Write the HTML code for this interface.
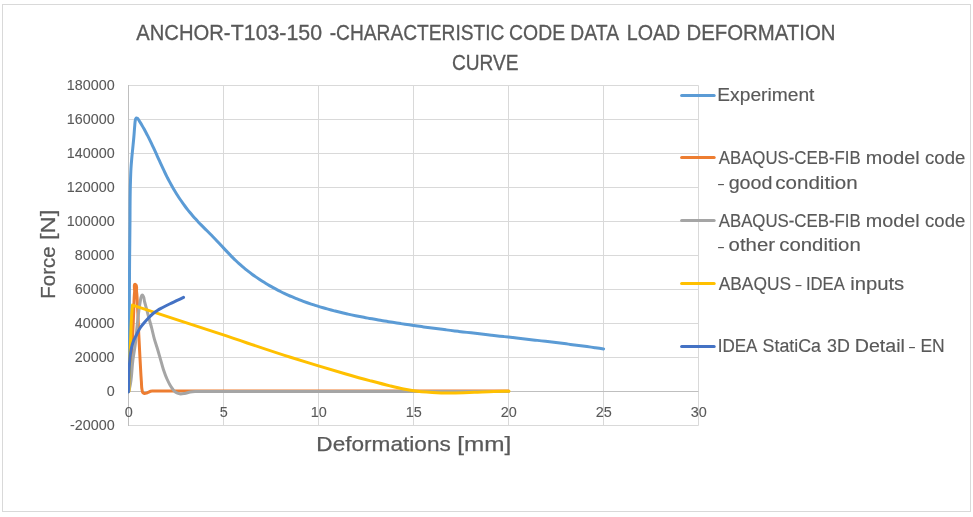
<!DOCTYPE html><html lang="en"><head><meta charset="utf-8"><title>ANCHOR-T103-150 load deformation curve</title><style>
html,body{margin:0;padding:0;background:#fff;}body{width:973px;height:517px;overflow:hidden;}
svg{display:block;will-change:transform;font-family:"Liberation Sans",sans-serif;}text{fill:#595959;}
</style></head><body>
<svg width="973" height="517" viewBox="0 0 973 517">
<rect x="0" y="0" width="973" height="517" fill="#fff"/>
<rect x="2.5" y="4.5" width="968" height="507" fill="#fff" stroke="#D9D9D9" stroke-width="1"/>
<g stroke="#D9D9D9" stroke-width="1" fill="none"><line x1="128.5" y1="85.5" x2="698.5" y2="85.5"/><line x1="128.5" y1="119.5" x2="698.5" y2="119.5"/><line x1="128.5" y1="153.5" x2="698.5" y2="153.5"/><line x1="128.5" y1="187.5" x2="698.5" y2="187.5"/><line x1="128.5" y1="221.5" x2="698.5" y2="221.5"/><line x1="128.5" y1="255.5" x2="698.5" y2="255.5"/><line x1="128.5" y1="289.5" x2="698.5" y2="289.5"/><line x1="128.5" y1="323.5" x2="698.5" y2="323.5"/><line x1="128.5" y1="357.5" x2="698.5" y2="357.5"/><line x1="128.5" y1="425.5" x2="698.5" y2="425.5"/><line x1="128.5" y1="85.5" x2="128.5" y2="425.5"/><line x1="223.5" y1="85.5" x2="223.5" y2="425.5"/><line x1="318.5" y1="85.5" x2="318.5" y2="425.5"/><line x1="413.5" y1="85.5" x2="413.5" y2="425.5"/><line x1="508.5" y1="85.5" x2="508.5" y2="425.5"/><line x1="603.5" y1="85.5" x2="603.5" y2="425.5"/><line x1="698.5" y1="85.5" x2="698.5" y2="425.5"/></g>
<line x1="128.5" y1="391.5" x2="698.5" y2="391.5" stroke="#BFBFBF" stroke-width="1"/>
<line x1="128.5" y1="85.0" x2="128.5" y2="426.0" stroke="#BFBFBF" stroke-width="1"/>
<text x="136.31" y="40.10" font-size="21.40" text-anchor="start" textLength="94.3" lengthAdjust="spacingAndGlyphs" stroke="#595959" stroke-width="0.30">ANCHOR-</text><text x="230.77" y="40.10" font-size="21.40" text-anchor="start" textLength="91.3" lengthAdjust="spacingAndGlyphs" stroke="#595959" stroke-width="0.30">T103-150</text><text x="329.70" y="40.10" font-size="21.40" text-anchor="start" textLength="174.7" lengthAdjust="spacingAndGlyphs" stroke="#595959" stroke-width="0.30">-CHARACTERISTIC</text><text x="509.07" y="40.10" font-size="21.40" text-anchor="start" textLength="56.0" lengthAdjust="spacingAndGlyphs" stroke="#595959" stroke-width="0.30">CODE</text><text x="570.36" y="40.10" font-size="21.40" text-anchor="start" textLength="48.7" lengthAdjust="spacingAndGlyphs" stroke="#595959" stroke-width="0.30">DATA</text><text x="626.74" y="40.10" font-size="21.40" text-anchor="start" textLength="53.6" lengthAdjust="spacingAndGlyphs" stroke="#595959" stroke-width="0.30">LOAD</text><text x="686.48" y="40.10" font-size="21.40" text-anchor="start" textLength="149.1" lengthAdjust="spacingAndGlyphs" stroke="#595959" stroke-width="0.30">DEFORMATION</text>
<text x="451.98" y="70.40" font-size="21.40" text-anchor="start" textLength="66.6" lengthAdjust="spacingAndGlyphs" stroke="#595959" stroke-width="0.30">CURVE</text>
<g transform="translate(114.6,90.00) scale(1.03,1)"><text x="0.00" y="0.00" font-size="13.90" text-anchor="end" stroke="#595959" stroke-width="0.08">180000</text></g>
<g transform="translate(114.6,124.00) scale(1.03,1)"><text x="0.00" y="0.00" font-size="13.90" text-anchor="end" stroke="#595959" stroke-width="0.08">160000</text></g>
<g transform="translate(114.6,158.00) scale(1.03,1)"><text x="0.00" y="0.00" font-size="13.90" text-anchor="end" stroke="#595959" stroke-width="0.08">140000</text></g>
<g transform="translate(114.6,192.00) scale(1.03,1)"><text x="0.00" y="0.00" font-size="13.90" text-anchor="end" stroke="#595959" stroke-width="0.08">120000</text></g>
<g transform="translate(114.6,226.00) scale(1.03,1)"><text x="0.00" y="0.00" font-size="13.90" text-anchor="end" stroke="#595959" stroke-width="0.08">100000</text></g>
<g transform="translate(114.6,260.00) scale(1.03,1)"><text x="0.00" y="0.00" font-size="13.90" text-anchor="end" stroke="#595959" stroke-width="0.08">80000</text></g>
<g transform="translate(114.6,294.00) scale(1.03,1)"><text x="0.00" y="0.00" font-size="13.90" text-anchor="end" stroke="#595959" stroke-width="0.08">60000</text></g>
<g transform="translate(114.6,328.00) scale(1.03,1)"><text x="0.00" y="0.00" font-size="13.90" text-anchor="end" stroke="#595959" stroke-width="0.08">40000</text></g>
<g transform="translate(114.6,362.00) scale(1.03,1)"><text x="0.00" y="0.00" font-size="13.90" text-anchor="end" stroke="#595959" stroke-width="0.08">20000</text></g>
<g transform="translate(114.6,396.00) scale(1.03,1)"><text x="0.00" y="0.00" font-size="13.90" text-anchor="end" stroke="#595959" stroke-width="0.08">0</text></g>
<g transform="translate(114.6,430.00) scale(1.03,1)"><text x="0.00" y="0.00" font-size="13.90" text-anchor="end" stroke="#595959" stroke-width="0.08">-20000</text></g>
<g transform="translate(128.70,417.0) scale(1.04,1)"><text x="0.00" y="0.00" font-size="13.90" text-anchor="middle" stroke="#595959" stroke-width="0.08">0</text></g>
<g transform="translate(223.70,417.0) scale(1.04,1)"><text x="0.00" y="0.00" font-size="13.90" text-anchor="middle" stroke="#595959" stroke-width="0.08">5</text></g>
<g transform="translate(318.70,417.0) scale(1.04,1)"><text x="0.00" y="0.00" font-size="13.90" text-anchor="middle" stroke="#595959" stroke-width="0.08">10</text></g>
<g transform="translate(413.70,417.0) scale(1.04,1)"><text x="0.00" y="0.00" font-size="13.90" text-anchor="middle" stroke="#595959" stroke-width="0.08">15</text></g>
<g transform="translate(508.70,417.0) scale(1.04,1)"><text x="0.00" y="0.00" font-size="13.90" text-anchor="middle" stroke="#595959" stroke-width="0.08">20</text></g>
<g transform="translate(603.70,417.0) scale(1.04,1)"><text x="0.00" y="0.00" font-size="13.90" text-anchor="middle" stroke="#595959" stroke-width="0.08">25</text></g>
<g transform="translate(698.70,417.0) scale(1.04,1)"><text x="0.00" y="0.00" font-size="13.90" text-anchor="middle" stroke="#595959" stroke-width="0.08">30</text></g>
<text x="316.37" y="450.50" font-size="21.00" text-anchor="start" textLength="134.4" lengthAdjust="spacingAndGlyphs" stroke="#595959" stroke-width="0.25">Deformations</text><text x="457.29" y="450.50" font-size="21.00" text-anchor="start" textLength="54.0" lengthAdjust="spacingAndGlyphs" stroke="#595959" stroke-width="0.25">[mm]</text>
<g transform="translate(55.2,0) rotate(-90)"><text x="-298.65" y="0.00" font-size="21.00" text-anchor="start" textLength="52.2" lengthAdjust="spacingAndGlyphs" stroke="#595959" stroke-width="0.25">Force</text><text x="-239.97" y="0.00" font-size="21.00" text-anchor="start" textLength="30.3" lengthAdjust="spacingAndGlyphs" stroke="#595959" stroke-width="0.25">[N]</text></g>
<clipPath id="pc"><rect x="128" y="60" width="600" height="380"/></clipPath>
<g fill="none" stroke-width="3" stroke-linecap="round" stroke-linejoin="round" clip-path="url(#pc)">
<path stroke="#5B9BD5" d="M128.70 391.50 C128.87 371.00 129.06 350.50 129.20 330.00 C129.36 306.67 129.40 283.33 129.60 260.00 C129.71 246.67 129.91 233.33 130.00 220.00 C130.04 213.33 130.02 206.67 130.10 200.00 C130.18 194.00 130.27 188.00 130.45 182.00 C130.58 177.67 130.69 173.33 130.95 169.00 C131.15 165.66 131.41 162.33 131.70 159.00 C132.01 155.43 132.40 151.87 132.75 148.30 C133.12 144.53 133.52 140.77 133.85 137.00 C134.20 133.04 134.41 129.06 134.80 125.10 C134.95 123.53 134.97 121.94 135.30 120.40 C135.41 119.86 135.42 119.27 135.70 118.80 C135.88 118.50 136.06 118.10 136.40 118.00 C136.73 117.91 137.10 118.13 137.40 118.30 C137.90 118.58 138.16 119.14 138.50 119.60 C138.98 120.25 139.34 120.97 139.76 121.66 C140.49 122.84 141.22 124.01 141.92 125.20 C142.62 126.40 143.31 127.60 143.99 128.81 C144.66 130.02 145.32 131.23 145.97 132.46 C146.62 133.68 147.26 134.92 147.89 136.15 C148.52 137.39 149.13 138.63 149.75 139.88 C150.36 141.13 150.96 142.38 151.56 143.64 C152.15 144.90 152.74 146.16 153.33 147.42 C153.92 148.68 154.50 149.95 155.07 151.22 C155.65 152.48 156.23 153.75 156.81 155.02 C157.38 156.29 157.95 157.56 158.53 158.83 C159.11 160.10 159.68 161.37 160.26 162.64 C160.84 163.91 161.42 165.18 162.01 166.44 C162.59 167.70 163.18 168.97 163.78 170.22 C164.38 171.48 164.98 172.74 165.59 173.99 C166.20 175.23 166.82 176.48 167.45 177.72 C168.08 178.96 168.72 180.19 169.37 181.42 C170.02 182.64 170.68 183.86 171.35 185.08 C172.03 186.29 172.71 187.49 173.41 188.69 C174.11 189.89 174.83 191.08 175.55 192.26 C176.28 193.44 177.01 194.61 177.76 195.77 C178.51 196.94 179.28 198.09 180.05 199.24 C180.83 200.39 181.62 201.52 182.42 202.65 C183.22 203.78 184.03 204.90 184.86 206.01 C185.69 207.12 186.53 208.22 187.38 209.31 C188.23 210.40 189.10 211.48 189.97 212.55 C190.85 213.63 191.74 214.69 192.64 215.74 C193.55 216.79 194.46 217.83 195.39 218.86 C196.32 219.89 197.26 220.91 198.22 221.92 C199.17 222.93 200.14 223.92 201.11 224.91 C202.09 225.90 203.07 226.88 204.06 227.87 C205.05 228.85 206.04 229.82 207.03 230.80 C208.02 231.78 209.01 232.75 210.00 233.74 C210.98 234.72 211.96 235.71 212.93 236.71 C213.90 237.70 214.86 238.71 215.82 239.72 C216.78 240.72 217.73 241.74 218.68 242.75 C219.62 243.77 220.57 244.79 221.52 245.81 C222.46 246.82 223.40 247.84 224.35 248.86 C225.30 249.87 226.25 250.89 227.20 251.90 C228.16 252.90 229.12 253.91 230.08 254.90 C231.05 255.90 232.02 256.89 233.01 257.87 C233.99 258.85 234.99 259.82 235.99 260.77 C237.00 261.73 238.02 262.68 239.05 263.61 C240.08 264.54 241.13 265.46 242.19 266.37 C243.24 267.27 244.31 268.16 245.39 269.04 C246.47 269.93 247.57 270.79 248.67 271.65 C249.77 272.50 250.88 273.34 252.01 274.17 C253.13 275.00 254.26 275.81 255.41 276.61 C256.55 277.42 257.70 278.20 258.86 278.98 C260.02 279.75 261.19 280.52 262.37 281.26 C263.54 282.01 264.73 282.75 265.92 283.47 C267.11 284.19 268.31 284.90 269.51 285.60 C270.72 286.29 271.93 286.97 273.15 287.64 C274.36 288.31 275.59 288.96 276.82 289.61 C278.04 290.25 279.28 290.88 280.52 291.49 C281.76 292.11 283.00 292.71 284.25 293.30 C285.50 293.90 286.76 294.47 288.02 295.04 C289.28 295.61 290.55 296.17 291.82 296.71 C293.09 297.25 294.36 297.79 295.64 298.31 C296.92 298.83 298.20 299.34 299.49 299.84 C300.78 300.34 302.07 300.83 303.37 301.31 C304.67 301.79 305.97 302.26 307.27 302.72 C308.58 303.18 309.89 303.63 311.20 304.07 C312.51 304.51 313.83 304.94 315.15 305.36 C316.47 305.79 317.79 306.20 319.12 306.60 C320.44 307.01 321.77 307.40 323.10 307.79 C324.44 308.18 325.77 308.56 327.11 308.93 C328.45 309.30 329.79 309.66 331.14 310.02 C332.48 310.37 333.83 310.72 335.18 311.06 C336.53 311.40 337.88 311.74 339.23 312.07 C340.58 312.39 341.94 312.71 343.30 313.03 C344.66 313.34 346.02 313.65 347.38 313.96 C348.74 314.26 350.10 314.55 351.47 314.85 C352.83 315.14 354.20 315.42 355.57 315.70 C356.94 315.98 358.31 316.26 359.68 316.53 C361.05 316.80 362.42 317.07 363.79 317.33 C365.16 317.59 366.54 317.85 367.91 318.10 C369.28 318.36 370.66 318.61 372.03 318.85 C373.41 319.10 374.79 319.34 376.16 319.58 C377.54 319.82 378.91 320.06 380.29 320.29 C381.67 320.53 383.04 320.76 384.42 320.98 C385.80 321.21 387.17 321.44 388.55 321.66 C389.93 321.89 391.30 322.11 392.68 322.33 C394.05 322.55 395.43 322.76 396.81 322.98 C398.18 323.19 399.56 323.40 400.94 323.61 C402.31 323.82 403.69 324.03 405.07 324.24 C406.44 324.44 407.82 324.65 409.19 324.85 C410.57 325.05 411.95 325.25 413.32 325.45 C414.70 325.64 416.08 325.84 417.45 326.03 C418.83 326.23 420.20 326.42 421.58 326.61 C422.96 326.80 424.33 326.99 425.71 327.18 C427.09 327.36 428.46 327.55 429.84 327.73 C431.21 327.92 432.59 328.10 433.97 328.28 C435.34 328.46 436.72 328.64 438.10 328.82 C439.47 329.00 440.85 329.17 442.23 329.35 C443.60 329.52 444.98 329.70 446.36 329.87 C447.73 330.04 449.11 330.21 450.49 330.38 C451.86 330.55 453.24 330.72 454.62 330.89 C455.99 331.06 457.37 331.23 458.75 331.39 C460.12 331.56 461.50 331.72 462.88 331.89 C464.25 332.05 465.63 332.21 467.01 332.38 C468.38 332.54 469.76 332.70 471.14 332.86 C472.52 333.02 473.89 333.18 475.27 333.34 C476.65 333.50 478.02 333.66 479.40 333.82 C480.78 333.98 482.16 334.14 483.53 334.29 C484.91 334.45 486.29 334.61 487.67 334.76 C489.04 334.92 490.42 335.08 491.80 335.23 C493.18 335.39 494.55 335.54 495.93 335.70 C497.31 335.85 498.69 336.01 500.07 336.17 C501.44 336.32 502.82 336.48 504.20 336.63 C505.58 336.79 506.96 336.94 508.33 337.09 C509.71 337.25 511.09 337.40 512.47 337.56 C513.85 337.71 515.23 337.87 516.60 338.03 C517.98 338.18 519.36 338.34 520.74 338.49 C522.12 338.65 523.50 338.80 524.88 338.96 C526.26 339.12 527.64 339.28 529.02 339.43 C530.39 339.59 531.77 339.75 533.15 339.91 C534.53 340.07 535.91 340.22 537.29 340.38 C538.67 340.54 540.05 340.70 541.43 340.87 C542.81 341.03 544.19 341.19 545.57 341.35 C546.95 341.51 548.33 341.68 549.71 341.84 C551.09 342.01 552.47 342.17 553.85 342.34 C555.23 342.50 556.61 342.67 558.00 342.84 C559.38 343.01 560.76 343.18 562.14 343.35 C563.52 343.52 564.90 343.69 566.28 343.86 C567.66 344.04 569.05 344.21 570.43 344.39 C571.81 344.56 573.19 344.74 574.57 344.92 C575.95 345.10 577.34 345.28 578.72 345.46 C580.10 345.64 581.48 345.82 582.87 346.01 C584.25 346.19 585.63 346.38 587.01 346.56 C588.40 346.75 589.78 346.94 591.16 347.13 C592.55 347.32 593.93 347.51 595.31 347.71 C596.70 347.90 598.08 348.10 599.46 348.30 C600.85 348.50 602.23 348.70 603.61 348.90"/>
<path stroke="#ED7D31" d="M128.60 391.50 C129.17 384.33 129.76 377.17 130.30 370.00 C131.05 360.00 131.82 350.01 132.40 340.00 C132.94 330.67 133.27 321.33 133.70 312.00 C134.00 305.33 133.88 298.63 134.60 292.00 C134.87 289.49 133.36 283.34 135.60 284.50 C137.54 285.51 136.24 288.83 136.50 291.00 C137.34 297.96 137.43 305.00 137.80 312.00 C138.21 319.66 138.44 327.33 138.80 335.00 C139.20 343.34 139.64 351.67 140.10 360.00 C140.51 367.33 140.85 374.67 141.40 382.00 C141.59 384.50 141.45 387.05 142.00 389.50 C142.24 390.55 142.15 391.83 142.90 392.60 C143.31 393.02 143.83 393.37 144.40 393.50 C145.13 393.67 145.89 393.34 146.60 393.10 C147.31 392.86 147.92 392.41 148.60 392.10 C149.26 391.80 149.90 391.42 150.60 391.25 C151.38 391.06 152.20 391.15 153.00 391.10 L508.50 391.10"/>
<path stroke="#A5A5A5" d="M128.60 391.50 C128.93 390.33 129.29 389.17 129.60 388.00 C132.02 378.92 131.63 369.31 132.90 360.00 C133.70 354.16 134.80 348.36 135.50 342.50 C136.08 337.61 136.38 332.70 136.90 327.80 C137.24 324.53 137.62 321.27 138.00 318.00 C138.39 314.67 138.71 311.32 139.20 308.00 C139.53 305.76 139.89 303.53 140.30 301.30 C140.58 299.80 140.52 298.17 141.20 296.80 C141.50 296.20 141.63 295.08 142.30 295.10 C142.92 295.12 143.09 296.06 143.40 296.60 C144.20 297.99 144.11 299.74 144.50 301.30 C145.06 303.54 145.70 305.77 146.30 308.00 C147.28 311.66 148.21 315.34 149.20 319.00 C150.05 322.17 150.98 325.32 151.80 328.50 C152.72 332.05 153.42 335.66 154.40 339.20 C155.41 342.84 156.72 346.38 157.80 350.00 C158.56 352.53 159.27 355.07 160.00 357.60 C161.14 361.53 162.10 365.52 163.40 369.40 C164.49 372.64 165.60 375.88 167.00 379.00 C167.92 381.04 168.87 383.07 170.00 385.00 C170.80 386.37 171.63 387.74 172.60 389.00 C173.51 390.17 174.37 391.47 175.60 392.30 C176.78 393.09 178.20 393.57 179.60 393.80 C181.21 394.07 182.88 393.74 184.50 393.50 C186.44 393.21 188.26 392.34 190.20 392.00 C191.78 391.72 193.39 391.60 195.00 391.50 C196.66 391.40 198.33 391.43 200.00 391.40 L508.50 391.40"/>
<path stroke="#FFC000" d="M128.90 391.50 C129.20 381.00 129.43 370.50 129.80 360.00 C130.04 353.33 130.32 346.67 130.60 340.00 C131.00 330.67 131.17 321.31 131.90 312.00 C132.08 309.70 132.30 307.40 132.50 305.10 L132.50 305.10 C162.53 314.97 192.59 324.77 222.60 334.70 C245.25 342.20 267.75 350.14 290.50 357.30 C299.81 360.23 309.15 363.09 318.50 365.90 C327.32 368.55 336.15 371.16 345.00 373.70 C353.22 376.05 361.45 378.38 369.70 380.60 C376.45 382.42 383.20 384.26 390.00 385.90 C394.52 386.99 399.04 388.09 403.60 389.00 C406.92 389.66 410.25 390.30 413.60 390.80 C419.76 391.71 425.99 392.13 432.20 392.50 C438.79 392.89 445.40 393.01 452.00 393.00 C459.44 392.99 466.87 392.59 474.30 392.30 C480.87 392.04 487.43 391.55 494.00 391.40 C499.00 391.28 504.00 391.33 509.00 391.30"/>
<path stroke="#4472C4" d="M128.40 392.00 C128.53 388.00 128.65 384.00 128.80 380.00 C129.00 374.67 129.11 369.32 129.50 364.00 C129.72 361.00 129.90 357.99 130.30 355.00 C130.52 353.33 130.79 351.66 131.10 350.00 C131.42 348.32 131.74 346.64 132.20 345.00 C132.67 343.30 133.22 341.62 133.90 340.00 C134.59 338.35 135.49 336.79 136.30 335.20 C137.53 332.78 138.61 330.27 140.10 328.00 C141.38 326.06 142.90 324.28 144.40 322.50 C145.78 320.85 147.20 319.24 148.70 317.70 C150.11 316.25 151.53 314.79 153.10 313.50 C154.46 312.38 155.91 311.35 157.40 310.40 C159.10 309.32 160.92 308.44 162.70 307.50 C164.98 306.29 167.28 305.13 169.60 304.00 C171.92 302.87 174.27 301.80 176.60 300.70 C178.92 299.60 181.23 298.50 183.55 297.40"/>
</g>
<line x1="681.6" y1="95.45" x2="714.2" y2="95.45" stroke="#5B9BD5" stroke-width="3" stroke-linecap="round"/>
<text x="717.30" y="101.20" font-size="18.00" text-anchor="start" textLength="97.1" lengthAdjust="spacingAndGlyphs" stroke="#595959" stroke-width="0.15">Experiment</text>
<line x1="681.6" y1="157.50" x2="714.2" y2="157.50" stroke="#ED7D31" stroke-width="3" stroke-linecap="round"/>
<text x="718.74" y="164.20" font-size="18.00" text-anchor="start" textLength="141.9" lengthAdjust="spacingAndGlyphs" stroke="#595959" stroke-width="0.15">ABAQUS-CEB-FIB</text><text x="865.76" y="164.20" font-size="18.00" text-anchor="start" textLength="53.8" lengthAdjust="spacingAndGlyphs" stroke="#595959" stroke-width="0.15">model</text><text x="925.09" y="164.20" font-size="18.00" text-anchor="start" textLength="40.2" lengthAdjust="spacingAndGlyphs" stroke="#595959" stroke-width="0.15">code</text>
<text x="717.03" y="189.15" font-size="14.40" text-anchor="start" textLength="8.0" lengthAdjust="spacingAndGlyphs">-</text><text x="728.65" y="188.60" font-size="18.00" text-anchor="start" textLength="43.8" lengthAdjust="spacingAndGlyphs" stroke="#595959" stroke-width="0.15">good</text><text x="775.30" y="188.60" font-size="18.00" text-anchor="start" textLength="82.3" lengthAdjust="spacingAndGlyphs" stroke="#595959" stroke-width="0.15">condition</text>
<line x1="681.6" y1="220.50" x2="714.2" y2="220.50" stroke="#A5A5A5" stroke-width="3" stroke-linecap="round"/>
<text x="718.74" y="226.90" font-size="18.00" text-anchor="start" textLength="141.9" lengthAdjust="spacingAndGlyphs" stroke="#595959" stroke-width="0.15">ABAQUS-CEB-FIB</text><text x="865.76" y="226.90" font-size="18.00" text-anchor="start" textLength="53.8" lengthAdjust="spacingAndGlyphs" stroke="#595959" stroke-width="0.15">model</text><text x="925.09" y="226.90" font-size="18.00" text-anchor="start" textLength="40.2" lengthAdjust="spacingAndGlyphs" stroke="#595959" stroke-width="0.15">code</text>
<text x="717.03" y="251.85" font-size="14.40" text-anchor="start" textLength="8.0" lengthAdjust="spacingAndGlyphs">-</text><text x="728.62" y="251.30" font-size="18.00" text-anchor="start" textLength="46.4" lengthAdjust="spacingAndGlyphs" stroke="#595959" stroke-width="0.15">other</text><text x="779.31" y="251.30" font-size="18.00" text-anchor="start" textLength="81.4" lengthAdjust="spacingAndGlyphs" stroke="#595959" stroke-width="0.15">condition</text>
<line x1="681.6" y1="283.50" x2="714.2" y2="283.50" stroke="#FFC000" stroke-width="3" stroke-linecap="round"/>
<text x="718.74" y="289.80" font-size="18.00" text-anchor="start" textLength="72.3" lengthAdjust="spacingAndGlyphs" stroke="#595959" stroke-width="0.15">ABAQUS</text><text x="794.53" y="290.35" font-size="14.40" text-anchor="start" textLength="8.0" lengthAdjust="spacingAndGlyphs">-</text><text x="805.94" y="289.80" font-size="18.00" text-anchor="start" textLength="38.8" lengthAdjust="spacingAndGlyphs" stroke="#595959" stroke-width="0.15">IDEA</text><text x="850.22" y="289.80" font-size="18.00" text-anchor="start" textLength="54.0" lengthAdjust="spacingAndGlyphs" stroke="#595959" stroke-width="0.15">inputs</text>
<line x1="681.6" y1="346.40" x2="714.2" y2="346.40" stroke="#4472C4" stroke-width="3" stroke-linecap="round"/>
<text x="717.71" y="352.00" font-size="18.00" text-anchor="start" textLength="39.7" lengthAdjust="spacingAndGlyphs" stroke="#595959" stroke-width="0.15">IDEA</text><text x="762.57" y="352.00" font-size="18.00" text-anchor="start" textLength="58.4" lengthAdjust="spacingAndGlyphs" stroke="#595959" stroke-width="0.15">StatiCa</text><text x="827.10" y="352.00" font-size="18.00" text-anchor="start" textLength="22.8" lengthAdjust="spacingAndGlyphs" stroke="#595959" stroke-width="0.15">3D</text><text x="854.77" y="352.00" font-size="18.00" text-anchor="start" textLength="50.1" lengthAdjust="spacingAndGlyphs" stroke="#595959" stroke-width="0.15">Detail</text><text x="908.13" y="351.55" font-size="14.40" text-anchor="start" textLength="8.0" lengthAdjust="spacingAndGlyphs">-</text><text x="920.44" y="352.00" font-size="18.00" text-anchor="start" textLength="24.3" lengthAdjust="spacingAndGlyphs" stroke="#595959" stroke-width="0.15">EN</text>
</svg></body></html>
